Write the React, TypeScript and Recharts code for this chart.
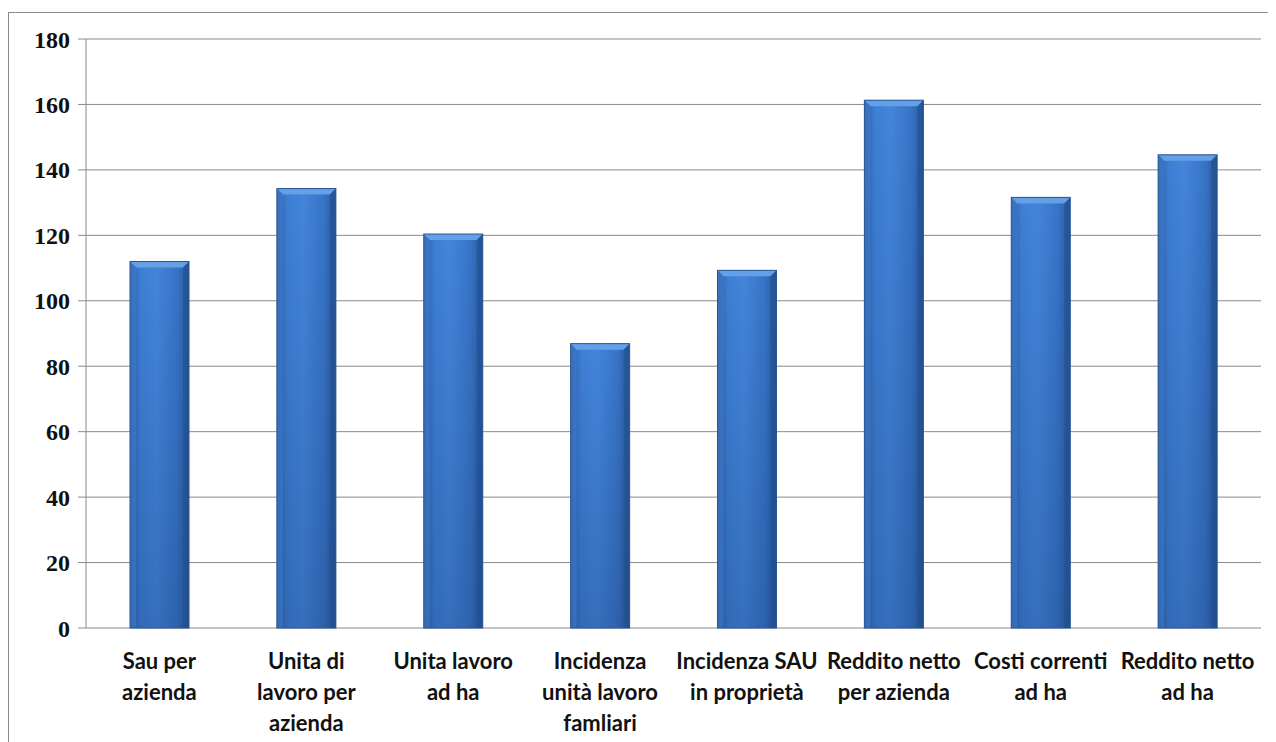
import { BarChart, Bar, XAxis, YAxis, CartesianGrid } from 'recharts';

const categories = [
  'Sau per azienda',
  'Unita di lavoro per azienda',
  'Unita lavoro ad ha',
  'Incidenza unità lavoro famliari',
  'Incidenza SAU in proprietà',
  'Reddito netto per azienda',
  'Costi correnti ad ha',
  'Reddito netto ad ha',
];

// righe delle etichette come appaiono sotto l'asse
const labelLines = [
  ['Sau per', 'azienda'],
  ['Unita di', 'lavoro per', 'azienda'],
  ['Unita lavoro', 'ad ha'],
  ['Incidenza', 'unità lavoro', 'famliari'],
  ['Incidenza SAU', 'in proprietà'],
  ['Reddito netto', 'per azienda'],
  ['Costi correnti', 'ad ha'],
  ['Reddito netto', 'ad ha'],
];

const values = [112, 134.3, 120.4, 86.9, 109.3, 161.3, 131.6, 144.6];

const yTicks = [0, 20, 40, 60, 80, 100, 120, 140, 160, 180];
const boundaryTicks = [0, 1, 2, 3, 4, 5, 6, 7, 8];

const data = categories.map((c, i) => ({ name: c, idx: i, value: values[i] }));

const GRID = '#8a8a8a';

const CategoryTick = ({ x, y, payload }: any) => {
  const lines = labelLines[payload.index] || [payload.value];
  return (
    <g>
      {lines.map((l: string, i: number) => (
        <text
          key={i}
          x={x}
          y={y + 41 + i * 31}
          textAnchor="middle"
          fill="#111"
          style={{ fontFamily: 'Lato, sans-serif', fontWeight: 700, fontSize: 22 }}
        >
          {l}
        </text>
      ))}
    </g>
  );
};

const EmptyTick = () => <g />;

const BevelBar = (props: any) => {
  const { x, y, width, height } = props;
  if (!height || height <= 0) return null;
  const b = 6;
  return (
    <g>
      <rect x={x} y={y} width={width} height={height} fill="url(#barH)" />
      <rect x={x} y={y} width={width} height={height} fill="url(#barV)" />
      <polygon
        points={`${x},${y} ${x + width},${y} ${x + width - b},${y + b} ${x + b},${y + b}`}
        fill="#64a0e8"
      />
      <polygon
        points={`${x},${y} ${x + b},${y + b} ${x + b},${y + height} ${x},${y + height}`}
        fill="#3f7cc9"
        opacity={0.6}
      />
      <polygon
        points={`${x + width},${y} ${x + width - b},${y + b} ${x + width - b},${y + height} ${x + width},${y + height}`}
        fill="#22508f"
        opacity={0.6}
      />
      <rect x={x} y={y} width={width} height={height} fill="none" stroke="#2a5595" strokeWidth={1} />
    </g>
  );
};

export default function App() {
  return (
    <div
      style={{
        marginTop: 4,
        width: 1267,
        height: 729,
        borderLeft: '1px solid #8c8c8c',
        borderTop: '1px solid #8c8c8c',
        background: '#fff',
      }}
    >
      <BarChart
        width={1267}
        height={729}
        data={data}
        margin={{ top: 26, right: 15, left: 17, bottom: 0 }}
      >
        <defs>
          <linearGradient id="barH" x1="0" y1="0" x2="1" y2="0">
            <stop offset="0%" stopColor="#2c5ea8" />
            <stop offset="18%" stopColor="#3d7fd4" />
            <stop offset="45%" stopColor="#4385da" />
            <stop offset="80%" stopColor="#3774c6" />
            <stop offset="100%" stopColor="#2a579d" />
          </linearGradient>
          <linearGradient id="barV" x1="0" y1="0" x2="0" y2="1">
            <stop offset="0%" stopColor="#0a2050" stopOpacity={0} />
            <stop offset="100%" stopColor="#0a2050" stopOpacity={0.22} />
          </linearGradient>
        </defs>
        <CartesianGrid vertical={false} stroke={GRID} strokeWidth={1} />
        <XAxis
          xAxisId="b"
          type="number"
          dataKey="idx"
          domain={[0, 8]}
          ticks={boundaryTicks}
          allowDataOverflow
          height={0}
          tick={EmptyTick}
          tickSize={7}
          stroke={GRID}
          axisLine={{ stroke: GRID }}
          tickLine={{ stroke: GRID }}
        />
        <XAxis
          xAxisId="cat"
          dataKey="name"
          height={114}
          axisLine={false}
          tickLine={false}
          tickSize={0}
          tickMargin={0}
          interval={0}
          tick={<CategoryTick />}
        />
        <YAxis
          domain={[0, 180]}
          ticks={yTicks}
          width={60}
          tickSize={8}
          tickMargin={8}
          stroke={GRID}
          axisLine={{ stroke: GRID }}
          tickLine={{ stroke: GRID }}
          tick={{ fill: '#111', fontFamily: '"Liberation Serif", serif', fontWeight: 700, fontSize: 24 }}
        />
        <Bar
          xAxisId="cat"
          dataKey="value"
          barSize={59}
          shape={<BevelBar />}
          isAnimationActive={false}
        />
      </BarChart>
    </div>
  );
}
